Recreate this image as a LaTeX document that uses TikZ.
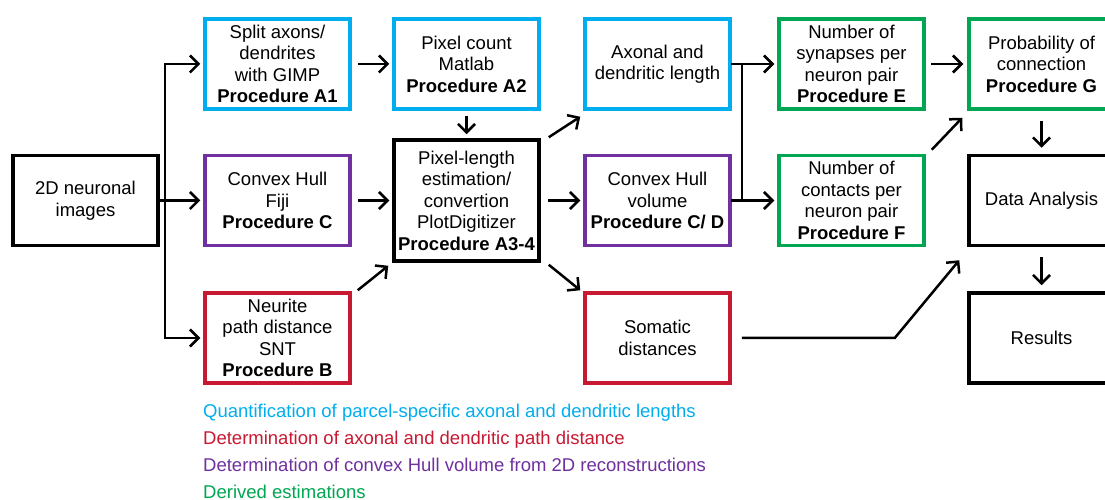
\documentclass[tikz,border=0pt]{standalone}
\usepackage{fontspec}
\setmainfont{Liberation Sans}
\usetikzlibrary{arrows.meta}
\definecolor{cy}{RGB}{0,174,239}
\definecolor{rd}{RGB}{200,25,50}
\definecolor{pu}{RGB}{112,48,160}
\definecolor{gr}{RGB}{0,166,81}
\tikzset{
  box/.style={draw=black, line width=3.5bp, minimum width=145bp, minimum height=90bp,
    align=center, inner sep=0pt, font=\fontsize{18.5bp}{21.5bp}\selectfont},
  ln/.style={line width=2.5bp, line cap=rect},
  arr/.style={line width=2.5bp, -{Straight Barb[length=8.5bp,width=17bp]}},
  legend/.style={anchor=base west, inner sep=0pt, font=\fontsize{18.5bp}{22bp}\selectfont}
}
\begin{document}
\begin{tikzpicture}[x=1bp,y=-1bp]
\useasboundingbox (0,0) rectangle (1105,500);
\fill[white] (0,0) rectangle (1105,500);
\node[box] (img) at (85.5,200.5) {2D neuronal\\images};
\node[box,draw=cy] (A1) at (277.5,64) {Split axons/\\dendrites\\with GIMP\\\textbf{Procedure A1}};
\node[box,draw=pu] (C) at (277.5,200.5) {Convex Hull\\Fiji\\\textbf{Procedure C}};
\node[box,draw=rd] (B) at (277.5,338) {Neurite\\path distance\\SNT\\\textbf{Procedure B}};
\node[box,draw=cy] (A2) at (466.5,64) {Pixel count\\Matlab\\\textbf{Procedure A2}};
\node[box,minimum height=121bp] (A34) at (466.5,200.5) {Pixel-length\\estimation/\\convertion\\PlotDigitizer\\\textbf{Procedure A3-4}};
\node[box,draw=cy] (AX) at (657.5,64) {Axonal and\\dendritic length};
\node[box,draw=pu] (CV) at (657.5,200.5) {Convex Hull\\volume\\\textbf{Procedure C/ D}};
\node[box,draw=rd] (SO) at (657.5,338) {Somatic\\distances};
\node[box,draw=gr] (E) at (851.5,64) {Number of\\synapses per\\neuron pair\\\textbf{Procedure E}};
\node[box,draw=gr] (F) at (851.5,200.5) {Number of\\contacts per\\neuron pair\\\textbf{Procedure F}};
\node[box,draw=gr] (G) at (1041.5,64) {Probability of\\connection\\\textbf{Procedure G}};
\node[box] (DA) at (1041.5,200.5) {Data Analysis};
\node[box] (R) at (1041.5,338) {Results};

% from images
\coordinate (bx) at (165,200.5);
\draw[ln] (img.east) -- (bx);
\draw[arr] (bx) |- ([shift={(-3,0)}]A1.west);
\draw[arr] (bx) |- ([shift={(-3,0)}]B.west);
\draw[arr] (bx) -- ([shift={(-3,0)}]C.west);

\draw[arr] ([shift={(6,0)}]A1.east) -- ([shift={(-3,0)}]A2.west);
\draw[arr] ([shift={(6,0)}]C.east) -- ([shift={(-3,0)}]A34.west);
\draw[arr] ([shift={(6,-1)}]B.north east) -- ([shift={(-4,3)}]A34.south west);
\draw[arr] ([shift={(0,5)}]A2.south) -- ([shift={(0,-4)}]A34.north);

\draw[arr] ([shift={(8,-1)}]A34.north east) -- ([shift={(-3,6)}]AX.south west);
\draw[arr] ([shift={(7,0)}]A34.east) -- ([shift={(-3,0)}]CV.west);
\draw[arr] ([shift={(8,2)}]A34.south east) -- ([shift={(-3,-1)}]SO.north west);

\draw[ln] (AX.east) -- ++(10,0) coordinate (j1);
\draw[ln] (CV.east) -- ++(10,0) coordinate (j2);
\draw[ln] (j1) -- (j2);
\draw[arr] (j1) -- ([shift={(-3,0)}]E.west);
\draw[arr] (j2) -- ([shift={(-3,0)}]F.west);

\draw[arr] ([shift={(5,0)}]E.east) -- ([shift={(-4,0)}]G.west);
\draw[arr] ([shift={(6,-4)}]F.north east) -- ([shift={(-5,7)}]G.south west);
\draw[arr] ([shift={(0,10)}]G.south) -- ([shift={(0,-6)}]DA.north);
\draw[arr] ([shift={(0,10)}]DA.south) -- ([shift={(0,-6)}]R.north);
\draw[arr, line join=miter] ([shift={(10,0)}]SO.east) -- ++(153,0) coordinate (sk) -- ([shift={(-8,13)}]DA.south west);

\node[legend, text=cy] (L1) at (203,417) {Quantification of parcel-specific axonal and dendritic lengths};
\node[legend, text=rd] (L2) at (203,444) {Determination of axonal and dendritic path distance};
\node[legend, text=pu] (L3) at (203,471) {Determination of convex Hull volume from 2D reconstructions};
\node[legend, text=gr] (L4) at (203,498) {Derived estimations};
\end{tikzpicture}
\end{document}
